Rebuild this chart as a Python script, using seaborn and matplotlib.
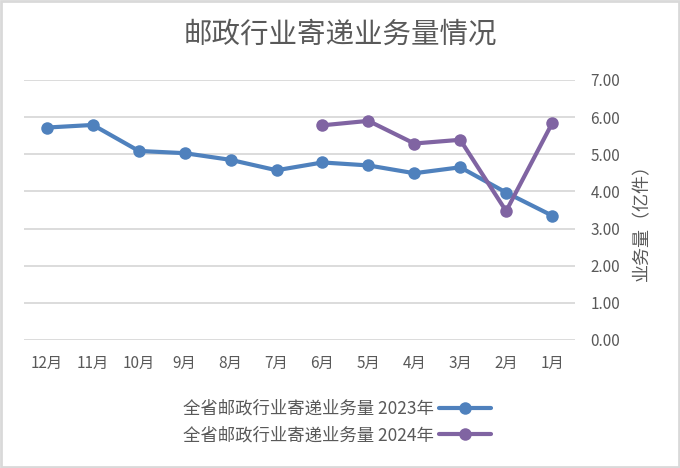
import matplotlib
matplotlib.use("Agg")
import matplotlib.pyplot as plt
import pandas as pd
import seaborn as sns
from matplotlib.patches import Rectangle

months = ["1月", "2月", "3月", "4月", "5月", "6月", "7月", "8月", "9月", "10月", "11月", "12月"]
vol_2023 = [3.35, 3.97, 4.65, 4.49, 4.70, 4.78, 4.57, 4.85, 5.03, 5.09, 5.79, 5.72]
vol_2024 = [5.83, 3.47, 5.39, 5.29, 5.90, 5.78]
series_names = ["全省邮政行业寄递业务量 2023年", "全省邮政行业寄递业务量 2024年"]
y_ticks = [0, 1, 2, 3, 4, 5, 6, 7]

TEXT = "#595959"
palette = ["#4f81bd", "#8064a2"]

df = pd.concat([
    pd.DataFrame({"月份": months, "量": vol_2023, "年份": series_names[0]}),
    pd.DataFrame({"月份": months[:len(vol_2024)], "量": vol_2024, "年份": series_names[1]}),
])
df["pos"] = df["月份"].map({m: i for i, m in enumerate(months)})

sns.set_style("white")
plt.rcParams["font.family"] = ["Noto Sans CJK SC", "DejaVu Sans"]

fig = plt.figure(figsize=(6.8, 4.68), dpi=100)
ax = fig.add_axes([24 / 680, 1 - 340 / 468, (575 - 24) / 680, 260 / 468])

sns.lineplot(data=df, x="pos", y="量", hue="年份", palette=palette, marker="o",
             markersize=9, markeredgewidth=0, linewidth=3, ax=ax, sort=False)

# mirrored layout: months run right-to-left, value axis on the right
ax.set_xlim(11.5, -0.5)
ax.set_ylim(0, 7)
ax.set_xticks(range(len(months)))
ax.set_xticklabels(months)
ax.set_yticks(y_ticks)
ax.set_yticklabels([f"{v:.2f}" for v in y_ticks])
ax.yaxis.tick_right()
ax.yaxis.set_label_position("right")
ax.tick_params(axis="both", length=0, labelsize=11, colors=TEXT)
ax.tick_params(axis="y", pad=11)
ax.tick_params(axis="x", pad=11)
ax.grid(axis="y", color="#d9d9d9", linewidth=1.3)
ax.set_axisbelow(True)
for s in ax.spines.values():
    s.set_visible(False)
ax.set_xlabel("")
ax.set_ylabel("业务量（亿件）", fontsize=13, color=TEXT, rotation=90)
ax.yaxis.set_label_coords((642 - 24) / 551, (340 - 218) / 260)
ax.yaxis.label.set_va("center")

h, l = ax.get_legend_handles_labels()
ax.legend(h, l, loc="center", bbox_to_anchor=(337 / 680, 1 - 422 / 468),
          bbox_transform=fig.transFigure, frameon=False, markerfirst=False,
          fontsize=12.5, labelcolor=TEXT, handlelength=3, labelspacing=0.5,
          handletextpad=0.3)

fig.text(0.5, 1 - 35 / 468, "邮政行业寄递业务量情况", ha="center", va="center",
         fontsize=20.5, color=TEXT)
fig.patches.append(Rectangle((0.0015, 0.002), 0.997, 0.996, transform=fig.transFigure,
                             fill=False, edgecolor="#d9d9d9", linewidth=2))

fig.savefig("out.png", dpi=100)
